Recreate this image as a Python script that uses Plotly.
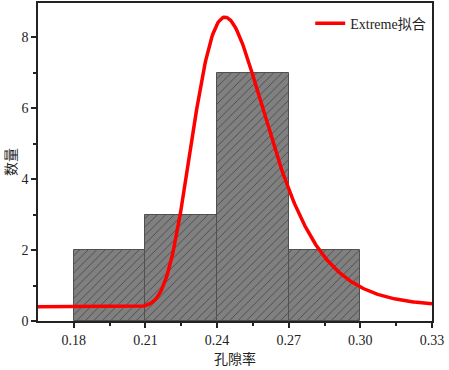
import numpy as np
import plotly.graph_objects as go

# Histogram data
bin_left = [0.18, 0.21, 0.24, 0.27]
bin_width = 0.03
counts = [2, 3, 7, 2]

# Extreme fit parameters
y0 = 0.4
A = 8.16
xc = 0.2433
w = 0.0155

x_ticks = [0.18, 0.21, 0.24, 0.27, 0.30, 0.33]
x_tick_text = ["0.18", "0.21", "0.24", "0.27", "0.30", "0.33"]
y_ticks = [0, 2, 4, 6, 8]

xs = np.linspace(0.165, 0.33, 400)
z = (xs - xc) / w
ys = y0 + A * np.exp(-np.exp(-z) - z + 1)

FONT = "Liberation Serif, Noto Sans CJK SC"

fig = go.Figure()
fig.add_trace(go.Bar(
    x=[b + bin_width / 2 for b in bin_left], y=counts, width=bin_width,
    marker=dict(color="#808080", line=dict(color="#505050", width=1),
                pattern=dict(shape="/", fgcolor="#111111", bgcolor="#808080", size=6, solidity=0.15)),
    showlegend=False,
))
fig.add_trace(go.Scatter(x=xs, y=ys, mode="lines", line=dict(color="#ff0000", width=3.5),
                         name="Extreme拟合"))

fig.update_layout(
    width=449, height=370,
    margin=dict(l=38, r=17, t=3, b=49),
    plot_bgcolor="white", paper_bgcolor="white",
    font=dict(family=FONT, size=14, color="#222"),
    bargap=0,
    legend=dict(x=0.998, y=0.985, xanchor="right", yanchor="top", bgcolor="rgba(0,0,0,0)",
                font=dict(family=FONT, size=14)),
    xaxis=dict(range=[0.165, 0.33], tickvals=x_ticks, ticktext=x_tick_text, automargin=False,
               showgrid=False, zeroline=False, showline=True, linecolor="#222", linewidth=1.5,
               mirror=True, ticks="outside", ticklen=5, tickcolor="#222", tickwidth=1.5,
               minor=dict(tickvals=[0.195, 0.225, 0.255, 0.285, 0.315], ticks="outside", ticklen=3, tickcolor="#222"),
               title=dict(text="孔隙率", font=dict(family="Noto Sans CJK SC", size=14), standoff=6)),
    yaxis=dict(range=[0, 8.96], tickvals=y_ticks, automargin=False,
               showgrid=False, zeroline=False, showline=True, linecolor="#222", linewidth=1.5,
               mirror=True, ticks="outside", ticklen=5, tickcolor="#222", tickwidth=1.5,
               minor=dict(tickvals=[1, 3, 5, 7], ticks="outside", ticklen=3, tickcolor="#222"),
               title=dict(text="数量", font=dict(family="Noto Sans CJK SC", size=14), standoff=4)),
)
fig.write_html("out.html", config={"displayModeBar": False},
               post_script="document.body.style.margin='0';document.body.style.overflow='hidden';")
